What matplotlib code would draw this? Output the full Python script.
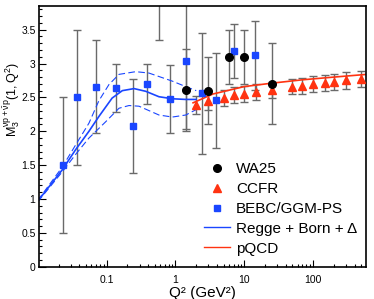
import matplotlib
matplotlib.use("Agg")
import matplotlib.pyplot as plt
from matplotlib.lines import Line2D

plt.rcParams['font.family'] = ['Liberation Sans', 'DejaVu Sans']
plt.rcParams['mathtext.fontset'] = 'custom'
plt.rcParams['mathtext.rm'] = 'Liberation Sans'
plt.rcParams['mathtext.it'] = 'Liberation Sans'
plt.rcParams['mathtext.bf'] = 'Liberation Sans'

# BEBC/GGM-PS (blue squares)
bebc_q2 = [0.0232, 0.037, 0.07, 0.136, 0.24, 0.385, 0.575, 0.83, 1.42, 2.46, 3.88, 7.0, 14.4]
bebc_m = [1.50, 2.50, 2.66, 2.64, 2.08, 2.70, 4.00, 2.48, 3.04, 2.56, 2.46, 3.19, 3.12]
bebc_err = [1.00, 1.00, 0.69, 0.35, 0.69, 0.30, 0.65, 0.50, 1.00, 0.89, 0.70, 0.40, 0.51]

# WA25 (black circles)
wa25_q2 = [1.42, 2.97, 6.0, 10.0, 25.0]
wa25_m = [2.61, 2.60, 3.10, 3.10, 2.70]
wa25_err = [0.60, 0.50, 0.40, 0.40, 0.60]

# CCFR (red triangles)
ccfr_q2 = [2, 3, 5, 7, 10, 15, 25, 50, 70, 100, 150, 200, 300, 500]
ccfr_m = [2.39, 2.44, 2.49, 2.54, 2.55, 2.58, 2.61, 2.66, 2.67, 2.70, 2.71, 2.73, 2.75, 2.77]
ccfr_err = [0.13, 0.12, 0.12, 0.12, 0.12, 0.12, 0.12, 0.11, 0.12, 0.12, 0.12, 0.12, 0.12, 0.12]

# Regge + Born + Delta (central and band)
regge_q2 = [0.01, 0.0226, 0.0355, 0.0553, 0.0773, 0.12, 0.169, 0.25, 0.37, 0.575, 0.9, 1.41, 2.0]
regge_m = [0.97, 1.43, 1.73, 2.00, 2.22, 2.49, 2.60, 2.63, 2.59, 2.51, 2.48, 2.47, 2.47]
upper_q2 = [0.01, 0.0226, 0.0355, 0.0553, 0.077, 0.108, 0.151, 0.264, 0.41, 0.9, 1.57, 2.0]
upper_m = [0.98, 1.47, 1.80, 2.12, 2.45, 2.69, 2.84, 2.88, 2.86, 2.74, 2.64, 2.60]
lower_q2 = [0.01, 0.0226, 0.0355, 0.0553, 0.0967, 0.151, 0.211, 0.295, 0.575, 0.9, 1.41, 2.0]
lower_m = [0.96, 1.40, 1.66, 1.90, 2.14, 2.34, 2.38, 2.37, 2.24, 2.21, 2.24, 2.32]

# pQCD
pqcd_q2 = [1.8, 3.5, 10, 25, 70, 200, 600]
pqcd_m = [2.42, 2.55, 2.66, 2.71, 2.76, 2.80, 2.84]

blue = '#1a46ff'
red = '#ff3311'
grey = '#6a6a6a'

fig = plt.figure(figsize=(3.74, 2.99), dpi=100)
ax = fig.add_axes([0.1043, 0.108, 0.8735, 0.872])

ax.plot(regge_q2, regge_m, color=blue, lw=1.2, zorder=2)
ax.plot(upper_q2, upper_m, color=blue, lw=0.8, ls=(0, (6, 3)), zorder=2)
ax.plot(lower_q2, lower_m, color=blue, lw=0.8, ls=(0, (6, 3)), zorder=2)
ax.plot(pqcd_q2, pqcd_m, color=red, lw=1.2, zorder=2)

ekw = dict(fmt='none', ecolor=grey, elinewidth=1.0, capsize=3, capthick=1.0, zorder=1)
ax.errorbar(bebc_q2, bebc_m, yerr=bebc_err, **ekw)
ax.errorbar(wa25_q2, wa25_m, yerr=wa25_err, **ekw)
ax.errorbar(ccfr_q2, ccfr_m, yerr=ccfr_err, **ekw)

ax.plot(ccfr_q2, ccfr_m, ls='none', marker='^', ms=6, color=red, mec=red, zorder=3)
ax.plot(bebc_q2, bebc_m, ls='none', marker='s', ms=5, color=blue, mec=blue, zorder=4)
ax.plot(wa25_q2, wa25_m, ls='none', marker='o', ms=5.5, color='black', zorder=5)

ax.set_xscale('log')
ax.set_xlim(0.0104, 580)
ax.set_ylim(0, 3.85)
ax.set_xticks([0.1, 1, 10, 100])
ax.set_xticklabels(['0.1', '1', '10', '100'])
ax.set_yticks([0, 0.5, 1, 1.5, 2, 2.5, 3, 3.5])
ax.set_yticklabels(['0', '0.5', '1', '1.5', '2', '2.5', '3', '3.5'])
ax.set_yticks([i / 10 for i in range(0, 39)], minor=True)
ax.tick_params(which='both', direction='in', labelsize=7.5, width=0.8)
ax.tick_params(which='major', length=5)
ax.tick_params(which='minor', length=2.5)
ax.tick_params(axis='x', pad=6)
ax.tick_params(axis='y', pad=2.5)
for s in ax.spines.values():
    s.set_linewidth(1.2)

ax.set_xlabel('Q² (GeV²)', fontsize=11, labelpad=1)
ax.set_ylabel(r'$\mathrm{M}_3^{\nu p+\bar{\nu} p}(1,Q^2)$', fontsize=9, va='center')
ax.yaxis.set_label_coords(-0.084, 0.64)

handles = [
    Line2D([], [], ls='none', marker='o', ms=5.5, color='black'),
    Line2D([], [], ls='none', marker='^', ms=6, color=red),
    Line2D([], [], ls='none', marker='s', ms=5, color=blue),
    Line2D([], [], color=blue, lw=1.0),
    Line2D([], [], color=red, lw=1.0),
]
labels = ['WA25', 'CCFR', 'BEBC/GGM-PS', 'Regge + Born + Δ', 'pQCD']
ax.legend(handles, labels, loc='upper left', bbox_to_anchor=(0.505, 0.40),
          frameon=False, fontsize=11, handlelength=1.7, handletextpad=0.4,
          labelspacing=0.38, borderpad=0, borderaxespad=0)

fig.savefig('out.png', dpi=100)
